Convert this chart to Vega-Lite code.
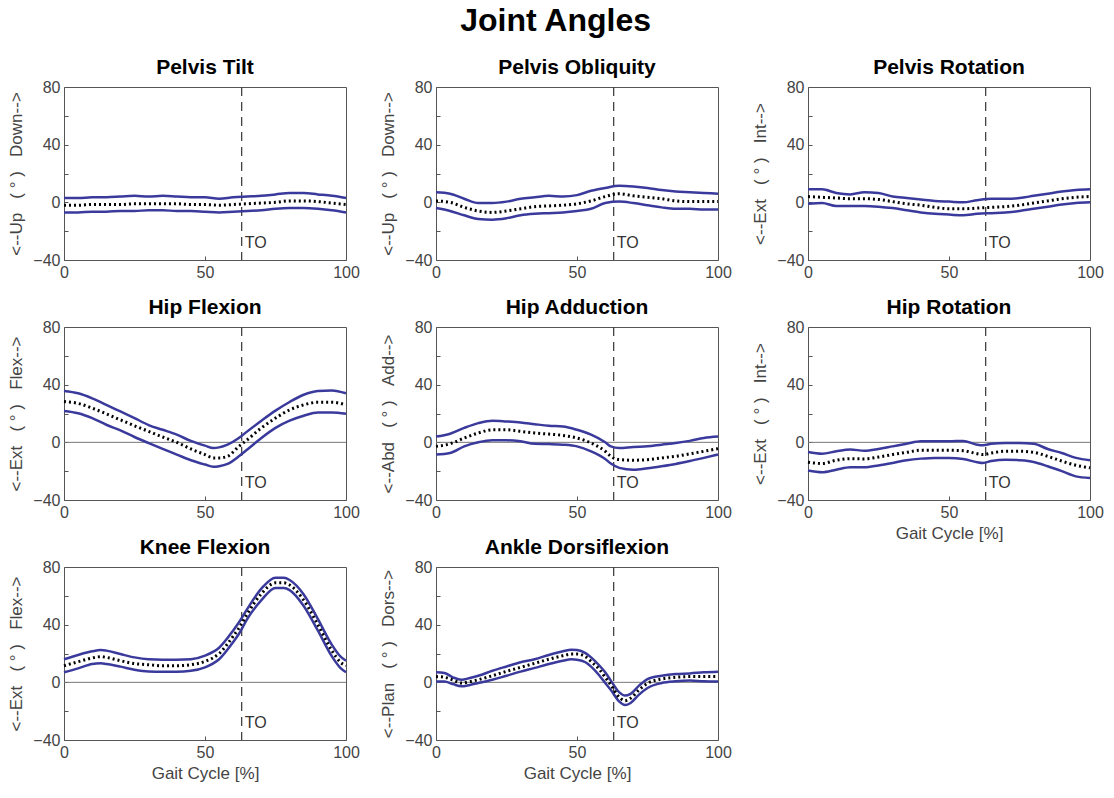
{
  "$schema": "https://vega.github.io/schema/vega-lite/v6.json",
  "background": "white",
  "padding": {"left": 7, "top": 4, "right": 5, "bottom": 5},
  "title": {"text": "Joint Angles", "anchor": "middle", "fontSize": 32, "font": "Liberation Sans", "fontWeight": "bold", "color": "#000", "offset": 19},
  "datasets": {
    "ev": [{"to": 63, "label": "TO"}],
    "a": [
      {"p":"PT","x":0,"hi":3,"m":-2,"lo":-7},{"p":"PT","x":5,"hi":3,"m":-2,"lo":-7},{"p":"PT","x":10,"hi":3.5,"m":-1.5,"lo":-6.5},{"p":"PT","x":15,"hi":3.5,"m":-1.5,"lo":-6.5},{"p":"PT","x":20,"hi":4,"m":-1.5,"lo":-6},{"p":"PT","x":25,"hi":4.5,"m":-1,"lo":-6},{"p":"PT","x":30,"hi":4,"m":-1,"lo":-5.5},{"p":"PT","x":35,"hi":4.5,"m":-1,"lo":-5.5},{"p":"PT","x":40,"hi":4,"m":-1,"lo":-6},{"p":"PT","x":45,"hi":3.5,"m":-1.5,"lo":-6},{"p":"PT","x":50,"hi":3.5,"m":-1.5,"lo":-6.5},{"p":"PT","x":55,"hi":2.5,"m":-2,"lo":-7},{"p":"PT","x":60,"hi":3.5,"m":-1.5,"lo":-6.5},{"p":"PT","x":65,"hi":4,"m":-1,"lo":-6},{"p":"PT","x":70,"hi":4.5,"m":-0.5,"lo":-5.5},{"p":"PT","x":75,"hi":5.5,"m":0,"lo":-4.5},{"p":"PT","x":80,"hi":6.5,"m":1,"lo":-4},{"p":"PT","x":85,"hi":6.5,"m":1,"lo":-4},{"p":"PT","x":90,"hi":5.5,"m":0.5,"lo":-4.5},{"p":"PT","x":95,"hi":4.5,"m":-0.5,"lo":-5.5},{"p":"PT","x":100,"hi":3,"m":-1.5,"lo":-7},
      {"p":"PO","x":0,"hi":7,"m":1,"lo":-4},{"p":"PO","x":5,"hi":6,"m":0,"lo":-6},{"p":"PO","x":10,"hi":2.5,"m":-3.5,"lo":-9},{"p":"PO","x":15,"hi":-0.5,"m":-6,"lo":-11.5},{"p":"PO","x":20,"hi":-0.5,"m":-7,"lo":-12},{"p":"PO","x":25,"hi":0.5,"m":-6,"lo":-11},{"p":"PO","x":30,"hi":2.5,"m":-4.5,"lo":-9},{"p":"PO","x":35,"hi":3.5,"m":-3,"lo":-8},{"p":"PO","x":40,"hi":4.5,"m":-2.5,"lo":-7.5},{"p":"PO","x":45,"hi":4,"m":-2,"lo":-7},{"p":"PO","x":50,"hi":5,"m":-1,"lo":-6},{"p":"PO","x":55,"hi":8,"m":1,"lo":-4.5},{"p":"PO","x":60,"hi":10,"m":4,"lo":-0.5},{"p":"PO","x":65,"hi":11.5,"m":6,"lo":0.5},{"p":"PO","x":70,"hi":11,"m":4.5,"lo":-0.5},{"p":"PO","x":75,"hi":10,"m":3.5,"lo":-2},{"p":"PO","x":80,"hi":8.5,"m":2.5,"lo":-3.5},{"p":"PO","x":85,"hi":7.5,"m":1,"lo":-4.5},{"p":"PO","x":90,"hi":7,"m":0.5,"lo":-4.5},{"p":"PO","x":95,"hi":6.5,"m":0.5,"lo":-5},{"p":"PO","x":100,"hi":6,"m":0.5,"lo":-5},
      {"p":"PR","x":0,"hi":9,"m":4,"lo":-1},{"p":"PR","x":5,"hi":9,"m":3.5,"lo":-0.5},{"p":"PR","x":10,"hi":6.5,"m":3,"lo":-2.5},{"p":"PR","x":15,"hi":5.5,"m":2.5,"lo":-2.5},{"p":"PR","x":20,"hi":7,"m":2.5,"lo":-2.5},{"p":"PR","x":25,"hi":6.5,"m":2,"lo":-3},{"p":"PR","x":30,"hi":4,"m":0.5,"lo":-4},{"p":"PR","x":35,"hi":3,"m":-1,"lo":-5.5},{"p":"PR","x":40,"hi":2,"m":-2,"lo":-7},{"p":"PR","x":45,"hi":1,"m":-3.5,"lo":-8},{"p":"PR","x":50,"hi":0.5,"m":-4.5,"lo":-8.5},{"p":"PR","x":55,"hi":0,"m":-4.5,"lo":-9},{"p":"PR","x":60,"hi":1.5,"m":-4,"lo":-8},{"p":"PR","x":65,"hi":2.5,"m":-3.5,"lo":-7.5},{"p":"PR","x":70,"hi":2.5,"m":-3,"lo":-7},{"p":"PR","x":75,"hi":3,"m":-2,"lo":-6},{"p":"PR","x":80,"hi":4.5,"m":-0.5,"lo":-4.5},{"p":"PR","x":85,"hi":6,"m":1,"lo":-3},{"p":"PR","x":90,"hi":7.5,"m":2.5,"lo":-1.5},{"p":"PR","x":95,"hi":8.5,"m":3.5,"lo":-0.5},{"p":"PR","x":100,"hi":9,"m":4,"lo":0},
      {"p":"HF","x":0,"hi":35.6,"m":28.3,"lo":21.8},{"p":"HF","x":5,"hi":34,"m":27,"lo":20.2},{"p":"HF","x":10,"hi":30.5,"m":23.7,"lo":16.8},{"p":"HF","x":15,"hi":26,"m":19.8,"lo":12.2},{"p":"HF","x":20,"hi":21.4,"m":15.6,"lo":8.3},{"p":"HF","x":25,"hi":16.8,"m":11.5,"lo":3.7},{"p":"HF","x":30,"hi":12,"m":7.6,"lo":-0.5},{"p":"HF","x":35,"hi":8.7,"m":3.7,"lo":-4.6},{"p":"HF","x":40,"hi":5.3,"m":0,"lo":-8.5},{"p":"HF","x":45,"hi":1,"m":-4.6,"lo":-12.4},{"p":"HF","x":50,"hi":-2.3,"m":-8.5,"lo":-15.4},{"p":"HF","x":53,"hi":-4,"m":-10.8,"lo":-17},{"p":"HF","x":55,"hi":-3.5,"m":-10.8,"lo":-16.6},{"p":"HF","x":58,"hi":-1.6,"m":-9.7,"lo":-15},{"p":"HF","x":62,"hi":3,"m":-2.8,"lo":-9.7},{"p":"HF","x":65,"hi":7.6,"m":1.8,"lo":-5},{"p":"HF","x":70,"hi":15,"m":10,"lo":3},{"p":"HF","x":75,"hi":22,"m":16.8,"lo":10},{"p":"HF","x":80,"hi":28,"m":22.5,"lo":15},{"p":"HF","x":85,"hi":33,"m":26,"lo":18.4},{"p":"HF","x":90,"hi":35.6,"m":27.8,"lo":20.7},{"p":"HF","x":95,"hi":36,"m":27.8,"lo":20.7},{"p":"HF","x":100,"hi":34,"m":26,"lo":19.8},
      {"p":"HA","x":0,"hi":4,"m":-2.8,"lo":-8.5},{"p":"HA","x":5,"hi":6,"m":-1,"lo":-7.4},{"p":"HA","x":10,"hi":10,"m":3,"lo":-2.8},{"p":"HA","x":15,"hi":13.3,"m":6.5,"lo":0},{"p":"HA","x":20,"hi":15,"m":8.7,"lo":1.4},{"p":"HA","x":25,"hi":14.5,"m":8.7,"lo":1.4},{"p":"HA","x":30,"hi":13.8,"m":7.6,"lo":0.7},{"p":"HA","x":35,"hi":12.6,"m":6.5,"lo":-1},{"p":"HA","x":40,"hi":11.5,"m":5.7,"lo":-1.2},{"p":"HA","x":45,"hi":11,"m":4.8,"lo":-1.6},{"p":"HA","x":50,"hi":8.7,"m":3,"lo":-2.8},{"p":"HA","x":55,"hi":5.3,"m":-0.5,"lo":-6.2},{"p":"HA","x":60,"hi":0,"m":-6.2,"lo":-11.5},{"p":"HA","x":62,"hi":-2.8,"m":-9.7,"lo":-14.7},{"p":"HA","x":65,"hi":-4,"m":-12,"lo":-17.7},{"p":"HA","x":70,"hi":-3.2,"m":-12.4,"lo":-19},{"p":"HA","x":75,"hi":-2.8,"m":-12,"lo":-18},{"p":"HA","x":80,"hi":-1.6,"m":-10.8,"lo":-16.6},{"p":"HA","x":85,"hi":-0.5,"m":-9.7,"lo":-15},{"p":"HA","x":90,"hi":1,"m":-8,"lo":-13},{"p":"HA","x":95,"hi":3,"m":-6.2,"lo":-10.8},{"p":"HA","x":100,"hi":4,"m":-4.4,"lo":-8.5},
      {"p":"HR","x":0,"hi":-6.7,"m":-13.8,"lo":-19.6},{"p":"HR","x":5,"hi":-7.9,"m":-14.7,"lo":-20.8},{"p":"HR","x":10,"hi":-6.2,"m":-12.4,"lo":-19},{"p":"HR","x":15,"hi":-5,"m":-11.3,"lo":-17.3},{"p":"HR","x":20,"hi":-5.8,"m":-11.5,"lo":-17.3},{"p":"HR","x":25,"hi":-4.6,"m":-10.2,"lo":-16},{"p":"HR","x":30,"hi":-2.8,"m":-8.5,"lo":-14.3},{"p":"HR","x":35,"hi":-1,"m":-6.9,"lo":-12.4},{"p":"HR","x":40,"hi":0.7,"m":-5.5,"lo":-11.3},{"p":"HR","x":45,"hi":0.7,"m":-5.5,"lo":-10.8},{"p":"HR","x":50,"hi":0.7,"m":-5.5,"lo":-10.8},{"p":"HR","x":55,"hi":1,"m":-5.8,"lo":-11.5},{"p":"HR","x":60,"hi":-1.6,"m":-7.9,"lo":-13.8},{"p":"HR","x":62,"hi":-2,"m":-8.5,"lo":-14.3},{"p":"HR","x":65,"hi":-1,"m":-7.4,"lo":-13},{"p":"HR","x":70,"hi":-0.5,"m":-6.2,"lo":-12},{"p":"HR","x":75,"hi":-0.5,"m":-6.2,"lo":-12.4},{"p":"HR","x":80,"hi":-1,"m":-6.9,"lo":-13.6},{"p":"HR","x":85,"hi":-4.6,"m":-9.7,"lo":-16.6},{"p":"HR","x":90,"hi":-7.4,"m":-13,"lo":-20},{"p":"HR","x":95,"hi":-10.8,"m":-15.9,"lo":-23.6},{"p":"HR","x":100,"hi":-12.4,"m":-17.7,"lo":-24.7},
      {"p":"KF","x":0,"hi":16,"m":11.5,"lo":7},{"p":"KF","x":5,"hi":19,"m":14.3,"lo":9.7},{"p":"KF","x":10,"hi":21.5,"m":16.9,"lo":12.7},{"p":"KF","x":13,"hi":22.4,"m":17.8,"lo":13.2},{"p":"KF","x":15,"hi":22,"m":17.3,"lo":12.7},{"p":"KF","x":20,"hi":19.6,"m":15,"lo":10.9},{"p":"KF","x":25,"hi":17.3,"m":13,"lo":8.8},{"p":"KF","x":30,"hi":16,"m":12.2,"lo":7.6},{"p":"KF","x":35,"hi":15.7,"m":11.5,"lo":7.4},{"p":"KF","x":40,"hi":15.7,"m":11.5,"lo":7.4},{"p":"KF","x":45,"hi":16,"m":12.2,"lo":8},{"p":"KF","x":50,"hi":18.5,"m":14.5,"lo":10.4},{"p":"KF","x":55,"hi":24,"m":20,"lo":16},{"p":"KF","x":60,"hi":36,"m":32,"lo":28},{"p":"KF","x":62,"hi":41.5,"m":37.5,"lo":33.5},{"p":"KF","x":65,"hi":51,"m":47.5,"lo":44},{"p":"KF","x":70,"hi":65,"m":61.5,"lo":57},{"p":"KF","x":75,"hi":72.6,"m":69,"lo":65.5},{"p":"KF","x":78,"hi":72.5,"m":69,"lo":65.5},{"p":"KF","x":80,"hi":71,"m":67.5,"lo":64},{"p":"KF","x":85,"hi":61,"m":57,"lo":53},{"p":"KF","x":90,"hi":44,"m":40,"lo":36},{"p":"KF","x":95,"hi":26,"m":22,"lo":18},{"p":"KF","x":98,"hi":18,"m":14,"lo":10},{"p":"KF","x":100,"hi":15,"m":11.5,"lo":7},
      {"p":"AD","x":0,"hi":7,"m":4,"lo":0.5},{"p":"AD","x":3,"hi":6.5,"m":3.5,"lo":0.5},{"p":"AD","x":6,"hi":3.5,"m":1.6,"lo":-1.2},{"p":"AD","x":9,"hi":1.8,"m":-0.5,"lo":-2.8},{"p":"AD","x":12,"hi":3,"m":0.5,"lo":-1.8},{"p":"AD","x":15,"hi":4.6,"m":1.8,"lo":-0.5},{"p":"AD","x":20,"hi":8,"m":4.6,"lo":1.8},{"p":"AD","x":25,"hi":11,"m":7.6,"lo":4.6},{"p":"AD","x":30,"hi":13.9,"m":10.4,"lo":7.4},{"p":"AD","x":35,"hi":16,"m":13.2,"lo":10},{"p":"AD","x":40,"hi":19,"m":16,"lo":12.7},{"p":"AD","x":45,"hi":21.5,"m":18.5,"lo":15},{"p":"AD","x":48,"hi":22.6,"m":19.6,"lo":16},{"p":"AD","x":50,"hi":22.4,"m":19.6,"lo":15.7},{"p":"AD","x":53,"hi":20.3,"m":17.8,"lo":13.9},{"p":"AD","x":55,"hi":17.3,"m":14.5,"lo":10.9},{"p":"AD","x":58,"hi":11.5,"m":8.8,"lo":4.6},{"p":"AD","x":60,"hi":7,"m":3.5,"lo":-0.5},{"p":"AD","x":62,"hi":1.2,"m":-1.8,"lo":-5.3},{"p":"AD","x":65,"hi":-7,"m":-10.4,"lo":-13.4},{"p":"AD","x":67,"hi":-9.2,"m":-12.7,"lo":-15.7},{"p":"AD","x":69,"hi":-8,"m":-11,"lo":-14.3},{"p":"AD","x":72,"hi":-2.3,"m":-5.3,"lo":-8.5},{"p":"AD","x":75,"hi":2.3,"m":-0.7,"lo":-3.9},{"p":"AD","x":80,"hi":4.6,"m":2.3,"lo":-0.5},{"p":"AD","x":85,"hi":5.8,"m":3.5,"lo":0.7},{"p":"AD","x":90,"hi":6.2,"m":4,"lo":1.2},{"p":"AD","x":95,"hi":7,"m":4,"lo":0.7},{"p":"AD","x":100,"hi":7.4,"m":4,"lo":0.5}
    ]
  },
  "columns": 3,
  "spacing": {"column": 90, "row": 67},
  "bounds": "flush",
  "concat": [
    {"title": "Pelvis Tilt", "width": 282, "height": 173, "layer": [
      {"data": {"name": "ev"}, "mark": {"type": "rule", "color": "#444", "strokeDash": [9, 6], "strokeWidth": 1.3}, "encoding": {"x": {"field": "to", "type": "quantitative", "scale": {"domain": [0, 100], "nice": false}, "title": null}}},
      {"data": {"name": "ev"}, "mark": {"type": "text", "align": "left", "baseline": "middle", "dx": 3, "fontSize": 16, "font": "Liberation Sans", "color": "#333"}, "encoding": {"x": {"field": "to", "type": "quantitative", "scale": {"domain": [0, 100], "nice": false}, "title": null}, "y": {"datum": -28, "type": "quantitative", "scale": {"domain": [-40, 80], "nice": false}, "title": "<--Up\u00a0\u00a0\u00a0(\u00a0°\u00a0)\u00a0\u00a0\u00a0Down-->"}, "text": {"field": "label"}}},
      {"data": {"name": "a"}, "transform": [{"filter": "datum.p === 'PT'"}], "layer": [
        {"mark": {"type": "line", "color": "#3a3a9c", "strokeWidth": 2.5, "interpolate": "monotone"}, "encoding": {"x": {"field": "x", "type": "quantitative", "scale": {"domain": [0, 100], "nice": false}, "title": null}, "y": {"field": "hi", "type": "quantitative", "scale": {"domain": [-40, 80], "nice": false}, "title": "<--Up\u00a0\u00a0\u00a0(\u00a0°\u00a0)\u00a0\u00a0\u00a0Down-->"}}},
        {"mark": {"type": "line", "color": "#3a3a9c", "strokeWidth": 2.5, "interpolate": "monotone"}, "encoding": {"x": {"field": "x", "type": "quantitative", "title": null}, "y": {"field": "lo", "type": "quantitative", "title": "<--Up\u00a0\u00a0\u00a0(\u00a0°\u00a0)\u00a0\u00a0\u00a0Down-->"}}},
        {"mark": {"type": "line", "color": "#000", "strokeWidth": 3, "strokeDash": [2, 3], "interpolate": "monotone"}, "encoding": {"x": {"field": "x", "type": "quantitative", "title": null}, "y": {"field": "m", "type": "quantitative", "title": "<--Up\u00a0\u00a0\u00a0(\u00a0°\u00a0)\u00a0\u00a0\u00a0Down-->"}}}
      ]}
    ]},
    {"title": "Pelvis Obliquity", "width": 282, "height": 173, "layer": [
      {"data": {"name": "ev"}, "mark": {"type": "rule", "color": "#444", "strokeDash": [9, 6], "strokeWidth": 1.3}, "encoding": {"x": {"field": "to", "type": "quantitative", "scale": {"domain": [0, 100], "nice": false}, "title": null}}},
      {"data": {"name": "ev"}, "mark": {"type": "text", "align": "left", "baseline": "middle", "dx": 3, "fontSize": 16, "font": "Liberation Sans", "color": "#333"}, "encoding": {"x": {"field": "to", "type": "quantitative", "scale": {"domain": [0, 100], "nice": false}, "title": null}, "y": {"datum": -28, "type": "quantitative", "scale": {"domain": [-40, 80], "nice": false}, "title": "<--Up\u00a0\u00a0\u00a0(\u00a0°\u00a0)\u00a0\u00a0\u00a0Down-->"}, "text": {"field": "label"}}},
      {"data": {"name": "a"}, "transform": [{"filter": "datum.p === 'PO'"}], "layer": [
        {"mark": {"type": "line", "color": "#3a3a9c", "strokeWidth": 2.5, "interpolate": "monotone"}, "encoding": {"x": {"field": "x", "type": "quantitative", "scale": {"domain": [0, 100], "nice": false}, "title": null}, "y": {"field": "hi", "type": "quantitative", "scale": {"domain": [-40, 80], "nice": false}, "title": "<--Up\u00a0\u00a0\u00a0(\u00a0°\u00a0)\u00a0\u00a0\u00a0Down-->"}}},
        {"mark": {"type": "line", "color": "#3a3a9c", "strokeWidth": 2.5, "interpolate": "monotone"}, "encoding": {"x": {"field": "x", "type": "quantitative", "title": null}, "y": {"field": "lo", "type": "quantitative", "title": "<--Up\u00a0\u00a0\u00a0(\u00a0°\u00a0)\u00a0\u00a0\u00a0Down-->"}}},
        {"mark": {"type": "line", "color": "#000", "strokeWidth": 3, "strokeDash": [2, 3], "interpolate": "monotone"}, "encoding": {"x": {"field": "x", "type": "quantitative", "title": null}, "y": {"field": "m", "type": "quantitative", "title": "<--Up\u00a0\u00a0\u00a0(\u00a0°\u00a0)\u00a0\u00a0\u00a0Down-->"}}}
      ]}
    ]},
    {"title": "Pelvis Rotation", "width": 282, "height": 173, "layer": [
      {"data": {"name": "ev"}, "mark": {"type": "rule", "color": "#444", "strokeDash": [9, 6], "strokeWidth": 1.3}, "encoding": {"x": {"field": "to", "type": "quantitative", "scale": {"domain": [0, 100], "nice": false}, "title": null}}},
      {"data": {"name": "ev"}, "mark": {"type": "text", "align": "left", "baseline": "middle", "dx": 3, "fontSize": 16, "font": "Liberation Sans", "color": "#333"}, "encoding": {"x": {"field": "to", "type": "quantitative", "scale": {"domain": [0, 100], "nice": false}, "title": null}, "y": {"datum": -28, "type": "quantitative", "scale": {"domain": [-40, 80], "nice": false}, "title": "<--Ext\u00a0\u00a0\u00a0(\u00a0°\u00a0)\u00a0\u00a0\u00a0Int-->"}, "text": {"field": "label"}}},
      {"data": {"name": "a"}, "transform": [{"filter": "datum.p === 'PR'"}], "layer": [
        {"mark": {"type": "line", "color": "#3a3a9c", "strokeWidth": 2.5, "interpolate": "monotone"}, "encoding": {"x": {"field": "x", "type": "quantitative", "scale": {"domain": [0, 100], "nice": false}, "title": null}, "y": {"field": "hi", "type": "quantitative", "scale": {"domain": [-40, 80], "nice": false}, "title": "<--Ext\u00a0\u00a0\u00a0(\u00a0°\u00a0)\u00a0\u00a0\u00a0Int-->"}}},
        {"mark": {"type": "line", "color": "#3a3a9c", "strokeWidth": 2.5, "interpolate": "monotone"}, "encoding": {"x": {"field": "x", "type": "quantitative", "title": null}, "y": {"field": "lo", "type": "quantitative", "title": "<--Ext\u00a0\u00a0\u00a0(\u00a0°\u00a0)\u00a0\u00a0\u00a0Int-->"}}},
        {"mark": {"type": "line", "color": "#000", "strokeWidth": 3, "strokeDash": [2, 3], "interpolate": "monotone"}, "encoding": {"x": {"field": "x", "type": "quantitative", "title": null}, "y": {"field": "m", "type": "quantitative", "title": "<--Ext\u00a0\u00a0\u00a0(\u00a0°\u00a0)\u00a0\u00a0\u00a0Int-->"}}}
      ]}
    ]},
    {"title": "Hip Flexion", "width": 282, "height": 173, "layer": [
      {"data": {"name": "ev"}, "mark": {"type": "rule", "color": "#777", "strokeWidth": 1}, "encoding": {"y": {"datum": 0, "type": "quantitative", "scale": {"domain": [-40, 80], "nice": false}, "title": "<--Ext\u00a0\u00a0\u00a0(\u00a0°\u00a0)\u00a0\u00a0\u00a0Flex-->"}}},
      {"data": {"name": "ev"}, "mark": {"type": "rule", "color": "#444", "strokeDash": [9, 6], "strokeWidth": 1.3}, "encoding": {"x": {"field": "to", "type": "quantitative", "scale": {"domain": [0, 100], "nice": false}, "title": null}}},
      {"data": {"name": "ev"}, "mark": {"type": "text", "align": "left", "baseline": "middle", "dx": 3, "fontSize": 16, "font": "Liberation Sans", "color": "#333"}, "encoding": {"x": {"field": "to", "type": "quantitative", "scale": {"domain": [0, 100], "nice": false}, "title": null}, "y": {"datum": -28, "type": "quantitative", "scale": {"domain": [-40, 80], "nice": false}, "title": "<--Ext\u00a0\u00a0\u00a0(\u00a0°\u00a0)\u00a0\u00a0\u00a0Flex-->"}, "text": {"field": "label"}}},
      {"data": {"name": "a"}, "transform": [{"filter": "datum.p === 'HF'"}], "layer": [
        {"mark": {"type": "line", "color": "#3a3a9c", "strokeWidth": 2.5, "interpolate": "monotone"}, "encoding": {"x": {"field": "x", "type": "quantitative", "scale": {"domain": [0, 100], "nice": false}, "title": null}, "y": {"field": "hi", "type": "quantitative", "scale": {"domain": [-40, 80], "nice": false}, "title": "<--Ext\u00a0\u00a0\u00a0(\u00a0°\u00a0)\u00a0\u00a0\u00a0Flex-->"}}},
        {"mark": {"type": "line", "color": "#3a3a9c", "strokeWidth": 2.5, "interpolate": "monotone"}, "encoding": {"x": {"field": "x", "type": "quantitative", "title": null}, "y": {"field": "lo", "type": "quantitative", "title": "<--Ext\u00a0\u00a0\u00a0(\u00a0°\u00a0)\u00a0\u00a0\u00a0Flex-->"}}},
        {"mark": {"type": "line", "color": "#000", "strokeWidth": 3, "strokeDash": [2, 3], "interpolate": "monotone"}, "encoding": {"x": {"field": "x", "type": "quantitative", "title": null}, "y": {"field": "m", "type": "quantitative", "title": "<--Ext\u00a0\u00a0\u00a0(\u00a0°\u00a0)\u00a0\u00a0\u00a0Flex-->"}}}
      ]}
    ]},
    {"title": "Hip Adduction", "width": 282, "height": 173, "layer": [
      {"data": {"name": "ev"}, "mark": {"type": "rule", "color": "#777", "strokeWidth": 1}, "encoding": {"y": {"datum": 0, "type": "quantitative", "scale": {"domain": [-40, 80], "nice": false}, "title": "<--Abd\u00a0\u00a0\u00a0(\u00a0°\u00a0)\u00a0\u00a0\u00a0Add-->"}}},
      {"data": {"name": "ev"}, "mark": {"type": "rule", "color": "#444", "strokeDash": [9, 6], "strokeWidth": 1.3}, "encoding": {"x": {"field": "to", "type": "quantitative", "scale": {"domain": [0, 100], "nice": false}, "title": null}}},
      {"data": {"name": "ev"}, "mark": {"type": "text", "align": "left", "baseline": "middle", "dx": 3, "fontSize": 16, "font": "Liberation Sans", "color": "#333"}, "encoding": {"x": {"field": "to", "type": "quantitative", "scale": {"domain": [0, 100], "nice": false}, "title": null}, "y": {"datum": -28, "type": "quantitative", "scale": {"domain": [-40, 80], "nice": false}, "title": "<--Abd\u00a0\u00a0\u00a0(\u00a0°\u00a0)\u00a0\u00a0\u00a0Add-->"}, "text": {"field": "label"}}},
      {"data": {"name": "a"}, "transform": [{"filter": "datum.p === 'HA'"}], "layer": [
        {"mark": {"type": "line", "color": "#3a3a9c", "strokeWidth": 2.5, "interpolate": "monotone"}, "encoding": {"x": {"field": "x", "type": "quantitative", "scale": {"domain": [0, 100], "nice": false}, "title": null}, "y": {"field": "hi", "type": "quantitative", "scale": {"domain": [-40, 80], "nice": false}, "title": "<--Abd\u00a0\u00a0\u00a0(\u00a0°\u00a0)\u00a0\u00a0\u00a0Add-->"}}},
        {"mark": {"type": "line", "color": "#3a3a9c", "strokeWidth": 2.5, "interpolate": "monotone"}, "encoding": {"x": {"field": "x", "type": "quantitative", "title": null}, "y": {"field": "lo", "type": "quantitative", "title": "<--Abd\u00a0\u00a0\u00a0(\u00a0°\u00a0)\u00a0\u00a0\u00a0Add-->"}}},
        {"mark": {"type": "line", "color": "#000", "strokeWidth": 3, "strokeDash": [2, 3], "interpolate": "monotone"}, "encoding": {"x": {"field": "x", "type": "quantitative", "title": null}, "y": {"field": "m", "type": "quantitative", "title": "<--Abd\u00a0\u00a0\u00a0(\u00a0°\u00a0)\u00a0\u00a0\u00a0Add-->"}}}
      ]}
    ]},
    {"title": "Hip Rotation", "width": 282, "height": 173, "layer": [
      {"data": {"name": "ev"}, "mark": {"type": "rule", "color": "#777", "strokeWidth": 1}, "encoding": {"y": {"datum": 0, "type": "quantitative", "scale": {"domain": [-40, 80], "nice": false}, "title": "<--Ext\u00a0\u00a0\u00a0(\u00a0°\u00a0)\u00a0\u00a0\u00a0Int-->"}}},
      {"data": {"name": "ev"}, "mark": {"type": "rule", "color": "#444", "strokeDash": [9, 6], "strokeWidth": 1.3}, "encoding": {"x": {"field": "to", "type": "quantitative", "scale": {"domain": [0, 100], "nice": false}, "title": "Gait Cycle [%]"}}},
      {"data": {"name": "ev"}, "mark": {"type": "text", "align": "left", "baseline": "middle", "dx": 3, "fontSize": 16, "font": "Liberation Sans", "color": "#333"}, "encoding": {"x": {"field": "to", "type": "quantitative", "scale": {"domain": [0, 100], "nice": false}, "title": "Gait Cycle [%]"}, "y": {"datum": -28, "type": "quantitative", "scale": {"domain": [-40, 80], "nice": false}, "title": "<--Ext\u00a0\u00a0\u00a0(\u00a0°\u00a0)\u00a0\u00a0\u00a0Int-->"}, "text": {"field": "label"}}},
      {"data": {"name": "a"}, "transform": [{"filter": "datum.p === 'HR'"}], "layer": [
        {"mark": {"type": "line", "color": "#3a3a9c", "strokeWidth": 2.5, "interpolate": "monotone"}, "encoding": {"x": {"field": "x", "type": "quantitative", "scale": {"domain": [0, 100], "nice": false}, "title": "Gait Cycle [%]"}, "y": {"field": "hi", "type": "quantitative", "scale": {"domain": [-40, 80], "nice": false}, "title": "<--Ext\u00a0\u00a0\u00a0(\u00a0°\u00a0)\u00a0\u00a0\u00a0Int-->"}}},
        {"mark": {"type": "line", "color": "#3a3a9c", "strokeWidth": 2.5, "interpolate": "monotone"}, "encoding": {"x": {"field": "x", "type": "quantitative", "title": "Gait Cycle [%]"}, "y": {"field": "lo", "type": "quantitative", "title": "<--Ext\u00a0\u00a0\u00a0(\u00a0°\u00a0)\u00a0\u00a0\u00a0Int-->"}}},
        {"mark": {"type": "line", "color": "#000", "strokeWidth": 3, "strokeDash": [2, 3], "interpolate": "monotone"}, "encoding": {"x": {"field": "x", "type": "quantitative", "title": "Gait Cycle [%]"}, "y": {"field": "m", "type": "quantitative", "title": "<--Ext\u00a0\u00a0\u00a0(\u00a0°\u00a0)\u00a0\u00a0\u00a0Int-->"}}}
      ]}
    ]},
    {"title": "Knee Flexion", "width": 282, "height": 173, "layer": [
      {"data": {"name": "ev"}, "mark": {"type": "rule", "color": "#777", "strokeWidth": 1}, "encoding": {"y": {"datum": 0, "type": "quantitative", "scale": {"domain": [-40, 80], "nice": false}, "title": "<--Ext\u00a0\u00a0\u00a0(\u00a0°\u00a0)\u00a0\u00a0\u00a0Flex-->"}}},
      {"data": {"name": "ev"}, "mark": {"type": "rule", "color": "#444", "strokeDash": [9, 6], "strokeWidth": 1.3}, "encoding": {"x": {"field": "to", "type": "quantitative", "scale": {"domain": [0, 100], "nice": false}, "title": "Gait Cycle [%]"}}},
      {"data": {"name": "ev"}, "mark": {"type": "text", "align": "left", "baseline": "middle", "dx": 3, "fontSize": 16, "font": "Liberation Sans", "color": "#333"}, "encoding": {"x": {"field": "to", "type": "quantitative", "scale": {"domain": [0, 100], "nice": false}, "title": "Gait Cycle [%]"}, "y": {"datum": -28, "type": "quantitative", "scale": {"domain": [-40, 80], "nice": false}, "title": "<--Ext\u00a0\u00a0\u00a0(\u00a0°\u00a0)\u00a0\u00a0\u00a0Flex-->"}, "text": {"field": "label"}}},
      {"data": {"name": "a"}, "transform": [{"filter": "datum.p === 'KF'"}], "layer": [
        {"mark": {"type": "line", "color": "#3a3a9c", "strokeWidth": 2.5, "interpolate": "monotone"}, "encoding": {"x": {"field": "x", "type": "quantitative", "scale": {"domain": [0, 100], "nice": false}, "title": "Gait Cycle [%]"}, "y": {"field": "hi", "type": "quantitative", "scale": {"domain": [-40, 80], "nice": false}, "title": "<--Ext\u00a0\u00a0\u00a0(\u00a0°\u00a0)\u00a0\u00a0\u00a0Flex-->"}}},
        {"mark": {"type": "line", "color": "#3a3a9c", "strokeWidth": 2.5, "interpolate": "monotone"}, "encoding": {"x": {"field": "x", "type": "quantitative", "title": "Gait Cycle [%]"}, "y": {"field": "lo", "type": "quantitative", "title": "<--Ext\u00a0\u00a0\u00a0(\u00a0°\u00a0)\u00a0\u00a0\u00a0Flex-->"}}},
        {"mark": {"type": "line", "color": "#000", "strokeWidth": 3, "strokeDash": [2, 3], "interpolate": "monotone"}, "encoding": {"x": {"field": "x", "type": "quantitative", "title": "Gait Cycle [%]"}, "y": {"field": "m", "type": "quantitative", "title": "<--Ext\u00a0\u00a0\u00a0(\u00a0°\u00a0)\u00a0\u00a0\u00a0Flex-->"}}}
      ]}
    ]},
    {"title": "Ankle Dorsiflexion", "width": 282, "height": 173, "layer": [
      {"data": {"name": "ev"}, "mark": {"type": "rule", "color": "#777", "strokeWidth": 1}, "encoding": {"y": {"datum": 0, "type": "quantitative", "scale": {"domain": [-40, 80], "nice": false}, "title": "<--Plan\u00a0\u00a0\u00a0(\u00a0°\u00a0)\u00a0\u00a0\u00a0Dors-->"}}},
      {"data": {"name": "ev"}, "mark": {"type": "rule", "color": "#444", "strokeDash": [9, 6], "strokeWidth": 1.3}, "encoding": {"x": {"field": "to", "type": "quantitative", "scale": {"domain": [0, 100], "nice": false}, "title": "Gait Cycle [%]"}}},
      {"data": {"name": "ev"}, "mark": {"type": "text", "align": "left", "baseline": "middle", "dx": 3, "fontSize": 16, "font": "Liberation Sans", "color": "#333"}, "encoding": {"x": {"field": "to", "type": "quantitative", "scale": {"domain": [0, 100], "nice": false}, "title": "Gait Cycle [%]"}, "y": {"datum": -28, "type": "quantitative", "scale": {"domain": [-40, 80], "nice": false}, "title": "<--Plan\u00a0\u00a0\u00a0(\u00a0°\u00a0)\u00a0\u00a0\u00a0Dors-->"}, "text": {"field": "label"}}},
      {"data": {"name": "a"}, "transform": [{"filter": "datum.p === 'AD'"}], "layer": [
        {"mark": {"type": "line", "color": "#3a3a9c", "strokeWidth": 2.5, "interpolate": "monotone"}, "encoding": {"x": {"field": "x", "type": "quantitative", "scale": {"domain": [0, 100], "nice": false}, "title": "Gait Cycle [%]"}, "y": {"field": "hi", "type": "quantitative", "scale": {"domain": [-40, 80], "nice": false}, "title": "<--Plan\u00a0\u00a0\u00a0(\u00a0°\u00a0)\u00a0\u00a0\u00a0Dors-->"}}},
        {"mark": {"type": "line", "color": "#3a3a9c", "strokeWidth": 2.5, "interpolate": "monotone"}, "encoding": {"x": {"field": "x", "type": "quantitative", "title": "Gait Cycle [%]"}, "y": {"field": "lo", "type": "quantitative", "title": "<--Plan\u00a0\u00a0\u00a0(\u00a0°\u00a0)\u00a0\u00a0\u00a0Dors-->"}}},
        {"mark": {"type": "line", "color": "#000", "strokeWidth": 3, "strokeDash": [2, 3], "interpolate": "monotone"}, "encoding": {"x": {"field": "x", "type": "quantitative", "title": "Gait Cycle [%]"}, "y": {"field": "m", "type": "quantitative", "title": "<--Plan\u00a0\u00a0\u00a0(\u00a0°\u00a0)\u00a0\u00a0\u00a0Dors-->"}}}
      ]}
    ]}
  ],
  "config": {
    "font": "Liberation Sans",
    "view": {"stroke": "#555", "strokeWidth": 1},
    "title": {"fontSize": 21, "fontWeight": "bold", "font": "Liberation Sans", "color": "#000", "offset": 1},
    "axis": {"grid": false, "domain": false, "tickColor": "#555", "tickSize": -4, "labelPadding": 8, "labelColor": "#444", "labelFontSize": 16, "labelFont": "Liberation Sans", "titleFont": "Liberation Sans", "titleFontSize": 17, "titleFontWeight": "normal", "titleColor": "#444"},
    "axisX": {"tickCount": 2, "labelFlush": false, "titlePadding": 5},
    "axisY": {"tickCount": 6, "labelExpr": "datum.value % 40 === 0 ? datum.label : ''", "titlePadding": 7}
  }
}
